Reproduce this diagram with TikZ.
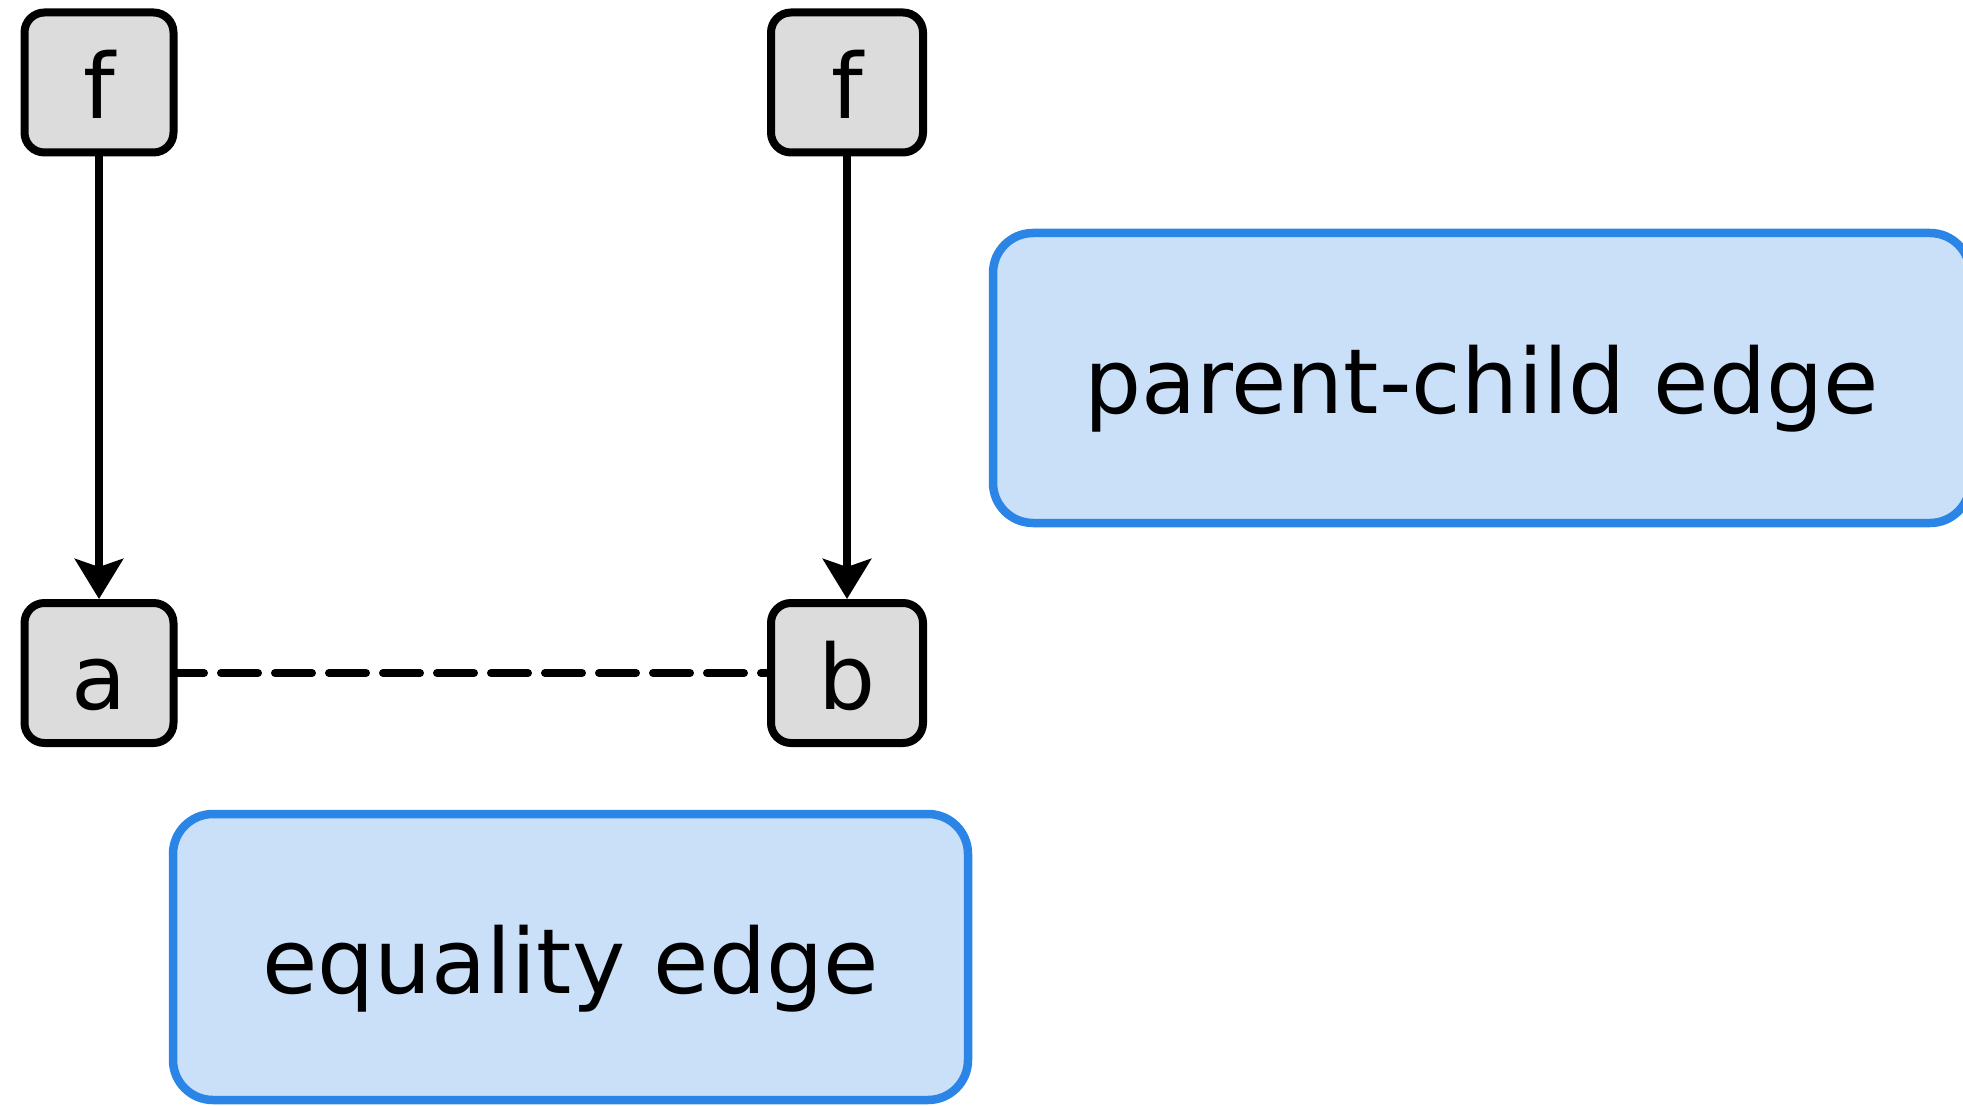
\documentclass[tikz,border=0pt]{standalone}
\usepackage{fontspec}
\setmainfont{DejaVu Sans}
\usetikzlibrary{arrows.meta}
\definecolor{termfill}{HTML}{DCDCDC}
\definecolor{notefill}{HTML}{CAE0F8}
\definecolor{notedraw}{HTML}{2A85E6}
\tikzset{
  termbox/.style={draw=black, line width=4pt, fill=termfill, rounded corners=10pt,
    inner sep=0pt, minimum height=70pt, text height=36pt, text depth=0pt,
    font=\fontsize{45pt}{54pt}\selectfont},
  notebox/.style={draw=notedraw, line width=4.25pt, fill=notefill, rounded corners=20pt,
    inner sep=0pt, text height=36pt, text depth=0pt,
    font=\fontsize{45pt}{54pt}\selectfont},
  childedge/.style={line width=4pt, -{Stealth[length=20pt, width=24pt, inset=4pt]}},
  eqedge/.style={line width=4pt, line cap=round,
    dash pattern=on 18.5pt off 8.5pt, dash phase=5.25pt}
}
\begin{document}
\begin{tikzpicture}[x=0.5pt, y=-0.5pt]
  \useasboundingbox (0,0) rectangle (1963,1106);

  % term nodes
  \node[termbox, minimum width=74.5pt] (f1) at (99,82.5) {f};
  \node[termbox, minimum width=74.5pt] (a)  at (99,673)  {a};
  \node[termbox, minimum width=76pt]   (f2) at (847,82.5) {f};
  \node[termbox, minimum width=76pt]   (b)  at (847,673)  {b};

  % edges
  \draw[childedge] (f1) -- (a);
  \draw[childedge] (f2) -- (b);
  \draw[eqedge] (a) -- (b);

  % legend labels
  \node[notebox, minimum width=488.5pt, minimum height=145pt] (pc) at (1481.5,378) {parent-child edge};
  \node[notebox, minimum width=397.5pt, minimum height=143pt] (eq) at (570.5,957) {equality edge};
\end{tikzpicture}
\end{document}
